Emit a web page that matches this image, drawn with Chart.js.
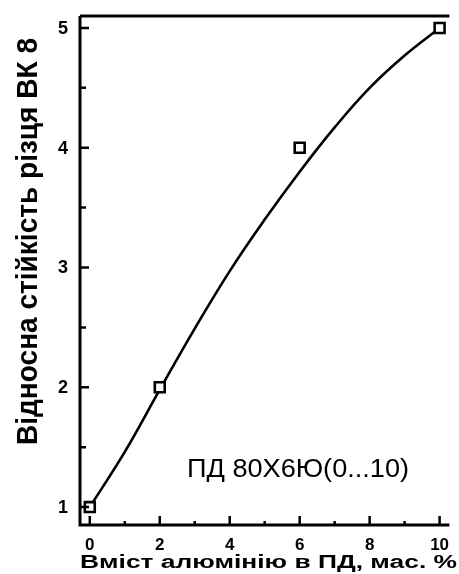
<!DOCTYPE html>
<html>
<head>
<meta charset="utf-8">
<script src="https://cdn.jsdelivr.net/npm/chart.js@4.4.1/dist/chart.umd.min.js"></script>
<style>
  html, body { margin: 0; padding: 0; background: #fff; }
  #wrap { width: 459px; height: 574px; position: relative; }
</style>
</head>
<body>
<div id="wrap"><canvas id="c"></canvas></div>
<script>
// Measured points: aluminium content (wt. %) vs. relative tool life
const alContent = [0, 2, 6, 10];
const relLife = [1, 2, 4, 5];

// Smoothed fitting curve through the measurements
const curveX = [0, 1, 2, 3, 4, 5, 6, 7, 8, 9, 10];
const curveY = [1, 1.46, 1.98, 2.49, 2.97, 3.4, 3.8, 4.17, 4.5, 4.77, 5.0];

// Axis ticks
const xMajor = [0, 2, 4, 6, 8, 10];
const xMinor = [1, 3, 5, 7, 9];
const yMajor = [1, 2, 3, 4, 5];
const yMinor = [1.5, 2.5, 3.5, 4.5];

const xTitle = 'Вміст алюмінію в ПД, мас. %';
const yTitle = 'Відносна стійкість різця ВК 8';
const noteText = 'ПД 80Х6Ю(0...10)';

const FONT = '"Liberation Sans", Arial, sans-serif';

// Draw text squeezed/stretched horizontally to a target width
function fitText(ctx, text, x, y, width, font, align) {
  ctx.save();
  ctx.font = font;
  const w = ctx.measureText(text).width;
  const s = width / w;
  ctx.translate(x, y);
  ctx.scale(s, 1);
  ctx.textAlign = align || 'left';
  ctx.fillText(text, 0, 0);
  ctx.restore();
}

const frame = {
  id: 'frame',
  afterDatasetsDraw(chart) {
    const ctx = chart.ctx;
    const xs = chart.scales.x, ys = chart.scales.y;
    const a = chart.chartArea;
    ctx.save();
    ctx.strokeStyle = '#000';
    ctx.fillStyle = '#000';
    ctx.lineCap = 'butt';

    // axis lines: left, bottom, top
    ctx.lineWidth = 3;
    ctx.beginPath();
    ctx.moveTo(a.left, a.top);
    ctx.lineTo(a.left, a.bottom);
    ctx.lineTo(a.right, a.bottom);
    ctx.moveTo(a.left, a.top);
    ctx.lineTo(a.right, a.top);
    ctx.stroke();

    // inward tick marks
    ctx.lineWidth = 2.5;
    ctx.beginPath();
    xMajor.forEach(v => { const p = xs.getPixelForValue(v); ctx.moveTo(p, a.bottom); ctx.lineTo(p, a.bottom - 9); });
    xMinor.forEach(v => { const p = xs.getPixelForValue(v); ctx.moveTo(p, a.bottom); ctx.lineTo(p, a.bottom - 4); });
    yMajor.forEach(v => { const p = ys.getPixelForValue(v); ctx.moveTo(a.left, p); ctx.lineTo(a.left + 9, p); });
    yMinor.forEach(v => { const p = ys.getPixelForValue(v); ctx.moveTo(a.left, p); ctx.lineTo(a.left + 6, p); });
    ctx.stroke();

    // tick labels
    ctx.textBaseline = 'middle';
    ctx.textAlign = 'right';
    ctx.font = 'bold 18px ' + FONT;
    yMajor.forEach(v => ctx.fillText(String(v), a.left - 12, ys.getPixelForValue(v) + 1));
    ctx.textAlign = 'center';
    ctx.font = 'bold 17px ' + FONT;
    xMajor.forEach(v => ctx.fillText(String(v), xs.getPixelForValue(v), a.bottom + 20));

    // axis titles
    ctx.textBaseline = 'alphabetic';
    fitText(ctx, xTitle, a.left, a.bottom + 43, 377, 'bold 18px ' + FONT, 'left');
    ctx.save();
    ctx.translate(37, 445);
    ctx.rotate(-Math.PI / 2);
    fitText(ctx, yTitle, 0, 0, 407, 'bold 29px ' + FONT, 'left');
    ctx.restore();

    // series note
    fitText(ctx, noteText, 187, 477, 222, '25px ' + FONT, 'left');
    ctx.restore();
  }
};

new Chart(document.getElementById('c'), {
  type: 'scatter',
  data: {
    datasets: [
      {
        label: 'measured',
        data: alContent.map((x, i) => ({ x, y: relLife[i] })),
        showLine: false,
        pointStyle: 'rect',
        pointRadius: 7,
        pointBorderWidth: 2.6,
        pointBorderColor: '#000',
        pointBackgroundColor: '#fff',
        order: 0
      },
      {
        label: 'curve',
        data: curveX.map((x, i) => ({ x, y: curveY[i] })),
        showLine: true,
        borderColor: '#000',
        borderWidth: 2.6,
        tension: 0.4,
        pointRadius: 0,
        order: 1
      }
    ]
  },
  options: {
    responsive: true,
    maintainAspectRatio: false,
    animation: false,
    events: [],
    layout: { padding: { left: 80, top: 16, right: 0, bottom: 49 } },
    plugins: { legend: { display: false }, tooltip: { enabled: false } },
    scales: {
      x: { type: 'linear', display: false, min: -0.28, max: 10.28 },
      y: { type: 'linear', display: false, min: 0.85, max: 5.1 }
    }
  },
  plugins: [frame]
});
</script>
</body>
</html>
